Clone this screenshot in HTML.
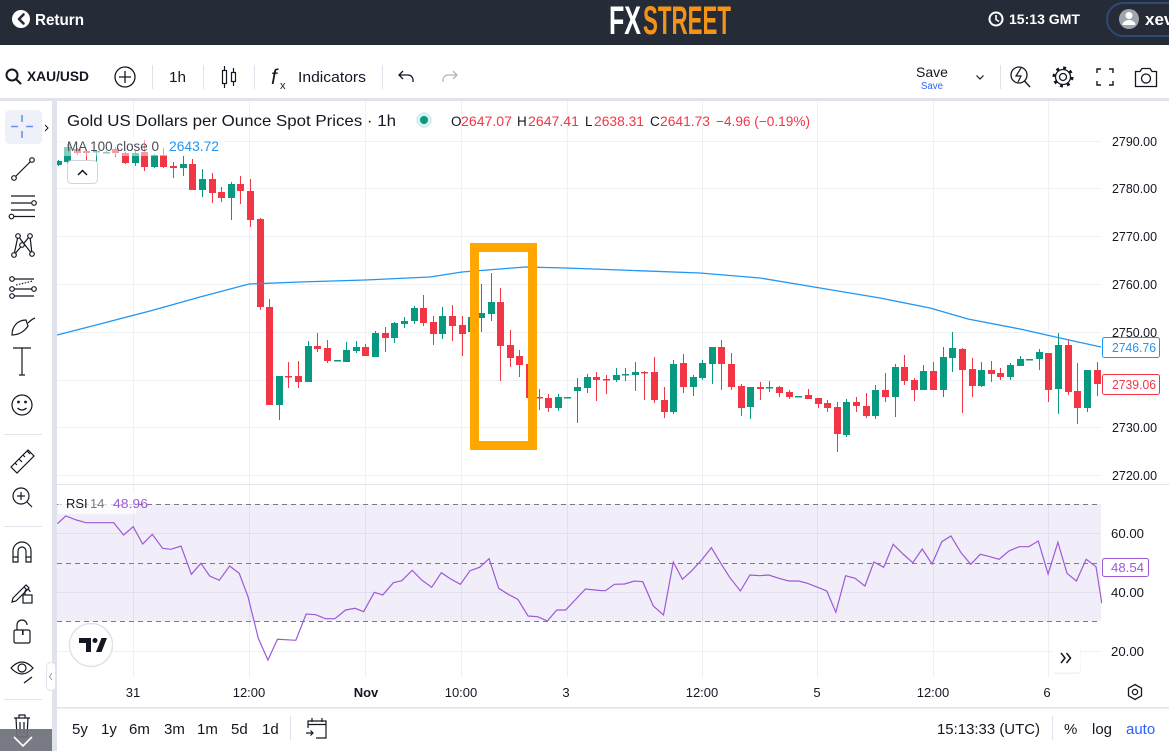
<!DOCTYPE html>
<html><head><meta charset="utf-8">
<style>
html,body{margin:0;padding:0;background:#fff;width:1169px;height:751px;overflow:hidden}
svg{display:block;font-family:"Liberation Sans",Arial,sans-serif}
</style></head><body>
<svg width="1169" height="751" viewBox="0 0 1169 751" xmlns="http://www.w3.org/2000/svg">
<defs>
<clipPath id="mainClip"><rect x="57" y="101" width="1044" height="383"/></clipPath>
<clipPath id="rsiClip"><rect x="57" y="485" width="1045" height="192"/></clipPath>
</defs>
<rect width="1169" height="751" fill="#fff"/>
<!-- header -->
<rect width="1169" height="45" fill="#252b37"/>
<circle cx="21" cy="19" r="9" fill="#fff"/>
<path d="M23.5 14.5 L19 19 L23.5 23.5" stroke="#252b37" stroke-width="2.6" fill="none" stroke-linecap="round" stroke-linejoin="round"/>
<text x="35" y="25" font-size="16" font-weight="bold" fill="#fff" textLength="49" lengthAdjust="spacingAndGlyphs">Return</text>
<text x="609" y="34" font-size="40" font-weight="bold" fill="#fff" textLength="32" lengthAdjust="spacingAndGlyphs" font-family="'Liberation Sans Narrow','Liberation Sans',sans-serif">FX</text>
<text x="643" y="34" font-size="40" font-weight="bold" fill="#f39419" textLength="88" lengthAdjust="spacingAndGlyphs" font-family="'Liberation Sans Narrow','Liberation Sans',sans-serif">STREET</text>
<circle cx="996" cy="19" r="6.5" stroke="#fff" stroke-width="2" fill="none"/>
<path d="M996 15 V19.5 L999 21.5" stroke="#fff" stroke-width="1.6" fill="none"/>
<text x="1009" y="24" font-size="14" font-weight="bold" fill="#fff" textLength="71" lengthAdjust="spacingAndGlyphs">15:13 GMT</text>
<rect x="1107" y="3" width="90" height="33" rx="16.5" fill="none" stroke="#2c4a77" stroke-width="2"/>
<circle cx="1129" cy="19" r="10" fill="#a0a4ad"/>
<circle cx="1129" cy="15.5" r="3.5" fill="#fff"/>
<path d="M1122.5 25 a6.5 5 0 0 1 13 0 z" fill="#fff"/>
<text x="1145" y="25" font-size="17" font-weight="bold" fill="#fff">xev</text>

<!-- layout gaps -->
<rect x="0" y="98" width="1169" height="3" fill="#e0e3eb"/>
<rect x="52" y="98" width="5" height="653" fill="#e0e3eb"/>
<rect x="57" y="707" width="1112" height="1.5" fill="#e0e3eb"/>

<!-- top toolbar -->
<circle cx="12" cy="75" r="5.5" stroke="#131722" stroke-width="2" fill="none"/>
<path d="M16 79 L20.5 83.5" stroke="#131722" stroke-width="2" stroke-linecap="round"/>
<text x="27" y="81" font-size="14" font-weight="bold" fill="#131722" textLength="62" lengthAdjust="spacingAndGlyphs">XAU/USD</text>
<circle cx="125" cy="77" r="10" stroke="#131722" stroke-width="1.3" fill="none"/>
<path d="M125 71 V83 M119 77 H131" stroke="#131722" stroke-width="1.3"/>
<rect x="152" y="65" width="1" height="24" fill="#e0e3eb"/>
<text x="169" y="82" font-size="15" fill="#131722" textLength="17" lengthAdjust="spacingAndGlyphs">1h</text>
<rect x="203" y="65" width="1" height="24" fill="#e0e3eb"/>
<path d="M224.5 66 V88 M233.5 68 V86" stroke="#131722" stroke-width="1.2"/>
<rect x="222.5" y="70.5" width="4" height="13" fill="#fff" stroke="#131722" stroke-width="1.2"/>
<rect x="231.5" y="72.5" width="4" height="9" fill="#fff" stroke="#131722" stroke-width="1.2"/>
<rect x="254" y="65" width="1" height="24" fill="#e0e3eb"/>
<text x="271" y="84" font-size="21" font-style="italic" fill="#131722">f</text>
<text x="280" y="89" font-size="11" fill="#131722">x</text>
<text x="298" y="82" font-size="15" fill="#131722" textLength="68" lengthAdjust="spacingAndGlyphs">Indicators</text>
<rect x="382" y="65" width="1" height="24" fill="#e0e3eb"/>
<path d="M403 71 L399 75 L403 79 M399 75 H408 A5 5 0 0 1 413 80 V82" stroke="#131722" stroke-width="1.3" fill="none"/>
<path d="M453 71 L457 75 L453 79 M457 75 H448 A5 5 0 0 0 443 80 V82" stroke="#b2b5be" stroke-width="1.3" fill="none"/>
<text x="916" y="77" font-size="14" fill="#131722" textLength="32" lengthAdjust="spacingAndGlyphs">Save</text>
<text x="921" y="89" font-size="10" fill="#2962ff" textLength="22" lengthAdjust="spacingAndGlyphs">Save</text>
<path d="M976.5 75.5 L980 79 L983.5 75.5" stroke="#131722" stroke-width="1.2" fill="none"/>
<rect x="1000" y="65" width="1" height="24" fill="#e0e3eb"/>
<circle cx="1019" cy="75" r="8" stroke="#131722" stroke-width="1.3" fill="none"/>
<path d="M1024.5 81 L1030 87" stroke="#131722" stroke-width="1.4"/>
<path d="M1021 68 L1016 76 H1021 L1018 82" stroke="#131722" stroke-width="1.2" fill="none"/>
<circle cx="1063" cy="77" r="3.5" stroke="#131722" stroke-width="1.3" fill="none"/>
<circle cx="1063" cy="77" r="7.5" stroke="#131722" stroke-width="1.3" fill="none"/>
<circle cx="1063" cy="77" r="9.2" stroke="#131722" stroke-width="2.6" fill="none" stroke-dasharray="3 4.2"/>
<path d="M1097 73 V69 H1101 M1109 69 H1113 V73 M1113 81 V85 H1109 M1101 85 H1097 V81" stroke="#131722" stroke-width="1.4" fill="none"/>
<path d="M1135.5 71.5 H1140 L1142 68.5 H1150 L1152 71.5 H1156.5 V86.5 H1135.5 Z" stroke="#131722" stroke-width="1.3" fill="none"/>
<circle cx="1146" cy="78.5" r="4.5" stroke="#131722" stroke-width="1.3" fill="none"/>

<!-- left sidebar -->
<rect x="5" y="110" width="37" height="34" rx="5" fill="#eef0fa"/>
<path d="M11 126.5 H18 M26 126.5 H33 M22 115 V122 M22 131 V138" stroke="#6d8ff0" stroke-width="1.6"/>
<path d="M45 125 L48 128 L45 131" stroke="#131722" stroke-width="1" fill="none"/>
<g stroke="#131722" stroke-width="1.2" fill="#fff">
<path d="M15.5 176.5 L30.5 161.5" fill="none"/>
<circle cx="14" cy="178" r="2.3"/><circle cx="32" cy="160" r="2.3"/>
<path d="M11 196 H35 M11 203 H31 M11 210 H35 M14 216.5 H35" fill="none"/>
<circle cx="34" cy="203" r="2.3"/><circle cx="11.5" cy="216.5" r="2.3"/>
<path d="M14 255 L18 236 L32 254 L30 236 L14 255" fill="none"/>
<circle cx="14" cy="255" r="2.3"/><circle cx="18" cy="236" r="2.3"/><circle cx="32" cy="254" r="2.3"/><circle cx="30" cy="236" r="2.3"/><circle cx="22" cy="245" r="2.3"/>
<path d="M14 279 H34 M14 289 H34 M14 296 H34" fill="none"/>
<path d="M16 285 L33 281" fill="none" stroke-dasharray="1.5 1.5"/>
<circle cx="12" cy="279" r="2.3"/><circle cx="12" cy="289" r="2.3"/><circle cx="34" cy="289" r="2.3"/><circle cx="12" cy="296" r="2.3"/>
<path d="M12 335 C12 326 18 320 26 320 L28 326 C24 332 18 335 12 335 Z M28 323 C30 321 32 319 35 318" fill="none"/>
<path d="M13 348 H31 M22 348 V375 M19 375 H25" fill="none"/>
<circle cx="22" cy="405" r="10"/>
<circle cx="18.5" cy="402" r="0.8" fill="#131722"/><circle cx="25.5" cy="402" r="0.8" fill="#131722"/>
<path d="M17.5 408 Q22 412 26.5 408" fill="none"/>
<path d="M11 467 L28 450 L34 456 L17 473 Z M15 463 L17 465 M19 459 L22 462 M23 455 L25 457 M27 451 L30 454" fill="none"/>
<circle cx="21" cy="496" r="8" fill="none"/>
<path d="M27 502 L32 507 M21 492 V500 M17 496 H25" fill="none"/>
<path d="M13 562 V551 A9 9 0 0 1 31 551 V562 H26 V551 A4 4 0 0 0 18 551 V562 Z M13 557 H18 M26 557 H31" fill="none"/>
<path d="M13 598 L12 602 L16 601 L29 588 L26 585 Z M24 587 L27 590" fill="none"/>
<rect x="23" y="595" width="9" height="8" fill="#fff"/>
<path d="M25 595 V592 A2.5 2.5 0 0 1 30 592" fill="none"/>
<rect x="14" y="630" width="16" height="13" rx="1.5" fill="none"/>
<path d="M17 630 V625 A5 5 0 0 1 27 625" fill="none"/>
<path d="M11 668 Q22 656 33 668 Q22 680 11 668 Z" fill="none"/>
<circle cx="22" cy="668" r="4" fill="none"/>
<path d="M24 683 L32 677" fill="none"/>
<path d="M14 718 H30 M19 718 V715 H25 V718 M16 718 L17 737 H27 L28 718 M20 722 V734 M24 722 V734" fill="none"/>
</g>
<rect x="22" y="630" width="1.6" height="5" fill="#131722"/>
<rect x="4" y="434" width="38" height="1" fill="#e0e3eb"/>
<rect x="4" y="526" width="38" height="1" fill="#e0e3eb"/>
<rect x="4" y="699" width="38" height="1" fill="#e0e3eb"/>
<rect x="0" y="729" width="52" height="22" fill="#6e7079" opacity="0.92"/>
<path d="M14 737 L23 746 L32 737" stroke="#fff" stroke-width="1.6" fill="none"/>
<rect x="46.5" y="662.5" width="9" height="28" rx="4" fill="#fff" stroke="#e0e3eb"/>
<path d="M52 673 L49.5 676.5 L52 680" stroke="#9598a1" stroke-width="1" fill="none"/>

<!-- grid -->
<g stroke="#eef0f3" stroke-width="1">
<path d="M57 141.5 H1101 M57 188.5 H1101 M57 236.5 H1101 M57 284.5 H1101 M57 332.5 H1101 M57 380.5 H1101 M57 427.5 H1101 M57 475.5 H1101"/>
<path d="M57 533.5 H1101 M57 592.5 H1101 M57 651.5 H1101"/>
<path d="M133.5 101 V484 M249.5 101 V484 M365.5 101 V484 M461.5 101 V484 M567.5 101 V484 M702.5 101 V484 M817.5 101 V484 M933.5 101 V484 M1048.5 101 V484"/>
<path d="M133.5 485 V677 M249.5 485 V677 M365.5 485 V677 M461.5 485 V677 M567.5 485 V677 M702.5 485 V677 M817.5 485 V677 M933.5 485 V677 M1048.5 485 V677"/>
</g>

<!-- candles -->
<g clip-path="url(#mainClip)">
<g fill="#089981">
<rect x="55" y="161" width="7" height="4"/><rect x="58" y="160" width="1" height="6"/>
<rect x="64" y="147" width="7" height="15"/><rect x="67" y="144" width="1" height="25"/>
<rect x="93" y="151" width="7" height="1.5"/><rect x="96" y="150" width="1" height="14"/>
<rect x="103" y="152" width="7" height="1.5"/><rect x="106" y="151" width="1" height="2"/>
<rect x="132" y="153" width="7" height="10"/><rect x="135" y="151" width="1" height="15"/>
<rect x="151" y="155" width="7" height="12"/><rect x="154" y="154" width="1" height="14"/>
<rect x="180" y="164" width="7" height="4"/><rect x="183" y="156" width="1" height="20"/>
<rect x="199" y="179" width="7" height="11"/><rect x="202" y="169" width="1" height="28"/>
<rect x="228" y="184" width="7" height="14"/><rect x="231" y="182" width="1" height="38"/>
<rect x="276" y="376" width="7" height="29"/><rect x="279" y="376" width="1" height="44"/>
<rect x="305" y="346" width="7" height="36"/><rect x="308" y="341" width="1" height="41"/>
<rect x="334" y="360" width="7" height="1.5"/>
<rect x="343" y="350" width="7" height="12"/><rect x="346" y="342" width="1" height="20"/>
<rect x="353" y="347" width="7" height="4"/><rect x="356" y="341" width="1" height="12"/>
<rect x="372" y="333" width="7" height="24"/><rect x="375" y="331" width="1" height="26"/>
<rect x="391" y="323" width="7" height="15"/><rect x="394" y="322" width="1" height="21"/>
<rect x="401" y="321" width="7" height="3"/><rect x="404" y="317" width="1" height="11"/>
<rect x="411" y="308" width="7" height="13"/><rect x="414" y="306" width="1" height="18"/>
<rect x="439" y="316" width="7" height="18"/><rect x="442" y="307" width="1" height="32"/>
<rect x="468" y="317" width="7" height="15"/><rect x="471" y="314" width="1" height="20"/>
<rect x="478" y="313" width="7" height="5"/><rect x="481" y="284" width="1" height="48"/>
<rect x="488" y="302" width="7" height="12"/><rect x="491" y="273" width="1" height="48"/>
<rect x="555" y="397" width="7" height="11"/><rect x="558" y="394" width="1" height="17"/>
<rect x="564" y="397" width="7" height="1.5"/>
<rect x="574" y="387" width="7" height="4"/><rect x="577" y="378" width="1" height="45"/>
<rect x="584" y="377" width="7" height="11"/><rect x="587" y="374" width="1" height="19"/>
<rect x="613" y="375" width="7" height="5"/><rect x="616" y="368" width="1" height="14"/>
<rect x="622" y="374" width="7" height="1.5"/><rect x="625" y="368" width="1" height="13"/>
<rect x="632" y="372" width="7" height="3"/><rect x="635" y="362" width="1" height="29"/>
<rect x="670" y="364" width="7" height="48"/><rect x="673" y="360" width="1" height="54"/>
<rect x="690" y="377" width="7" height="10"/><rect x="693" y="375" width="1" height="21"/>
<rect x="699" y="363" width="7" height="15"/><rect x="702" y="360" width="1" height="20"/>
<rect x="709" y="347" width="7" height="17"/><rect x="712" y="347" width="1" height="37"/>
<rect x="747" y="387" width="7" height="20"/><rect x="750" y="387" width="1" height="32"/>
<rect x="766" y="387" width="7" height="1.5"/><rect x="769" y="381" width="1" height="11"/>
<rect x="795" y="396" width="7" height="1.5"/>
<rect x="843" y="402" width="7" height="33"/><rect x="846" y="399" width="1" height="38"/>
<rect x="872" y="390" width="7" height="26"/><rect x="875" y="385" width="1" height="34"/>
<rect x="892" y="367" width="7" height="30"/><rect x="895" y="364" width="1" height="53"/>
<rect x="920" y="371" width="7" height="19"/><rect x="923" y="365" width="1" height="25"/>
<rect x="940" y="357" width="7" height="33"/><rect x="943" y="347" width="1" height="50"/>
<rect x="949" y="348" width="7" height="10"/><rect x="952" y="332" width="1" height="40"/>
<rect x="978" y="370" width="7" height="16"/><rect x="981" y="362" width="1" height="25"/>
<rect x="1007" y="365" width="7" height="12"/><rect x="1010" y="363" width="1" height="17"/>
<rect x="1017" y="359" width="7" height="7"/><rect x="1020" y="356" width="1" height="10"/>
<rect x="1026" y="359" width="7" height="1.5"/>
<rect x="1036" y="352" width="7" height="7"/><rect x="1039" y="349" width="1" height="21"/>
<rect x="1055" y="345" width="7" height="44"/><rect x="1058" y="333" width="1" height="81"/>
<rect x="1084" y="370" width="7" height="38"/><rect x="1087" y="370" width="1" height="42"/>
</g>
<g fill="#f23645">
<rect x="74" y="149" width="7" height="4"/><rect x="77" y="148" width="1" height="7"/>
<rect x="83" y="151" width="7" height="2"/><rect x="86" y="150" width="1" height="16"/>
<rect x="112" y="149" width="7" height="4"/><rect x="115" y="147" width="1" height="10"/>
<rect x="122" y="153" width="7" height="10"/><rect x="125" y="152" width="1" height="12"/>
<rect x="141" y="152" width="7" height="15"/><rect x="144" y="140" width="1" height="31"/>
<rect x="160" y="155" width="7" height="12"/><rect x="163" y="148" width="1" height="20"/>
<rect x="170" y="166" width="7" height="2"/><rect x="173" y="162" width="1" height="16"/>
<rect x="189" y="164" width="7" height="26"/><rect x="192" y="159" width="1" height="31"/>
<rect x="209" y="179" width="7" height="14"/><rect x="212" y="173" width="1" height="30"/>
<rect x="218" y="192" width="7" height="6"/><rect x="221" y="187" width="1" height="15"/>
<rect x="237" y="184" width="7" height="7"/><rect x="240" y="176" width="1" height="28"/>
<rect x="247" y="191" width="7" height="29"/><rect x="250" y="179" width="1" height="48"/>
<rect x="257" y="219" width="7" height="88"/><rect x="260" y="218" width="1" height="92"/>
<rect x="266" y="307" width="7" height="98"/><rect x="269" y="299" width="1" height="106"/>
<rect x="285" y="376" width="7" height="1.5"/><rect x="288" y="362" width="1" height="26"/>
<rect x="295" y="376" width="7" height="6"/><rect x="298" y="361" width="1" height="27"/>
<rect x="314" y="346" width="7" height="3"/><rect x="317" y="333" width="1" height="19"/>
<rect x="324" y="348" width="7" height="13"/><rect x="327" y="340" width="1" height="23"/>
<rect x="362" y="347" width="7" height="9"/><rect x="365" y="344" width="1" height="12"/>
<rect x="382" y="333" width="7" height="5"/><rect x="385" y="327" width="1" height="25"/>
<rect x="420" y="308" width="7" height="15"/><rect x="423" y="295" width="1" height="31"/>
<rect x="430" y="322" width="7" height="12"/><rect x="433" y="316" width="1" height="29"/>
<rect x="449" y="316" width="7" height="10"/><rect x="452" y="305" width="1" height="36"/>
<rect x="459" y="325" width="7" height="9"/><rect x="462" y="316" width="1" height="40"/>
<rect x="497" y="302" width="7" height="44"/><rect x="500" y="288" width="1" height="93"/>
<rect x="507" y="345" width="7" height="13"/><rect x="510" y="330" width="1" height="37"/>
<rect x="516" y="356" width="7" height="9"/><rect x="519" y="350" width="1" height="27"/>
<rect x="526" y="364" width="7" height="34"/><rect x="529" y="363" width="1" height="35"/>
<rect x="536" y="397" width="7" height="1.5"/><rect x="539" y="389" width="1" height="21"/>
<rect x="545" y="398" width="7" height="10"/><rect x="548" y="394" width="1" height="18"/>
<rect x="593" y="377" width="7" height="3"/><rect x="596" y="372" width="1" height="29"/>
<rect x="603" y="379" width="7" height="1.5"/><rect x="606" y="375" width="1" height="19"/>
<rect x="641" y="372" width="7" height="1.5"/><rect x="644" y="371" width="1" height="29"/>
<rect x="651" y="372" width="7" height="28"/><rect x="654" y="357" width="1" height="46"/>
<rect x="661" y="400" width="7" height="12"/><rect x="664" y="387" width="1" height="31"/>
<rect x="680" y="363" width="7" height="24"/><rect x="683" y="354" width="1" height="39"/>
<rect x="718" y="347" width="7" height="17"/><rect x="721" y="340" width="1" height="50"/>
<rect x="728" y="364" width="7" height="23"/><rect x="731" y="353" width="1" height="37"/>
<rect x="738" y="386" width="7" height="22"/><rect x="741" y="384" width="1" height="32"/>
<rect x="757" y="387" width="7" height="2"/><rect x="760" y="382" width="1" height="18"/>
<rect x="776" y="387" width="7" height="6"/><rect x="779" y="386" width="1" height="11"/>
<rect x="786" y="392" width="7" height="5"/><rect x="789" y="390" width="1" height="9"/>
<rect x="805" y="395" width="7" height="4"/><rect x="808" y="389" width="1" height="10"/>
<rect x="815" y="398" width="7" height="6"/><rect x="818" y="398" width="1" height="10"/>
<rect x="824" y="403" width="7" height="5"/><rect x="827" y="400" width="1" height="12"/>
<rect x="834" y="407" width="7" height="27"/><rect x="837" y="402" width="1" height="50"/>
<rect x="853" y="402" width="7" height="4"/><rect x="856" y="397" width="1" height="15"/>
<rect x="863" y="406" width="7" height="10"/><rect x="866" y="393" width="1" height="25"/>
<rect x="882" y="390" width="7" height="7"/><rect x="885" y="373" width="1" height="29"/>
<rect x="901" y="367" width="7" height="14"/><rect x="904" y="355" width="1" height="30"/>
<rect x="911" y="380" width="7" height="10"/><rect x="914" y="378" width="1" height="23"/>
<rect x="930" y="371" width="7" height="19"/><rect x="933" y="362" width="1" height="28"/>
<rect x="959" y="349" width="7" height="21"/><rect x="962" y="348" width="1" height="65"/>
<rect x="969" y="369" width="7" height="17"/><rect x="972" y="358" width="1" height="39"/>
<rect x="988" y="370" width="7" height="4"/><rect x="991" y="361" width="1" height="21"/>
<rect x="997" y="373" width="7" height="4"/><rect x="1000" y="368" width="1" height="12"/>
<rect x="1045" y="353" width="7" height="37"/><rect x="1048" y="353" width="1" height="49"/>
<rect x="1065" y="345" width="7" height="47"/><rect x="1068" y="340" width="1" height="55"/>
<rect x="1074" y="391" width="7" height="17"/><rect x="1077" y="363" width="1" height="61"/>
<rect x="1094" y="370" width="7" height="14"/><rect x="1097" y="362" width="1" height="34"/>
</g>
<polyline fill="none" stroke="#2196f3" stroke-width="1.3" points="57,335 100,324 150,311 200,297 249,284 300,282 365,280 430,277 462,272 500,269 525,267 566,268 620,270 700,273 760,278 820,288 880,298 930,308 968,319 1020,329 1060,338 1101,347"/>
<rect x="474.5" y="247.5" width="58" height="198" fill="none" stroke="#ffa600" stroke-width="9"/>
</g>

<!-- main legend -->
<text x="67" y="126" font-size="16" fill="#131722" textLength="329" lengthAdjust="spacingAndGlyphs">Gold US Dollars per Ounce Spot Prices · 1h</text>
<circle cx="424" cy="120" r="8" fill="#089981" opacity="0.15"/>
<circle cx="424" cy="120" r="4" fill="#089981"/>
<g font-size="13.5">
<text x="451" y="126" fill="#131722">O</text>
<text x="461" y="126" fill="#f23645" textLength="51" lengthAdjust="spacingAndGlyphs">2647.07</text>
<text x="517" y="126" fill="#131722">H</text>
<text x="528" y="126" fill="#f23645" textLength="51" lengthAdjust="spacingAndGlyphs">2647.41</text>
<text x="585" y="126" fill="#131722">L</text>
<text x="594" y="126" fill="#f23645" textLength="50" lengthAdjust="spacingAndGlyphs">2638.31</text>
<text x="650" y="126" fill="#131722">C</text>
<text x="660" y="126" fill="#f23645" textLength="50" lengthAdjust="spacingAndGlyphs">2641.73</text>
<text x="716" y="126" fill="#f23645" textLength="94" lengthAdjust="spacingAndGlyphs">−4.96 (−0.19%)</text>
</g>
<rect x="58" y="137" width="166" height="19" fill="#fff" opacity="0.5"/>
<text x="67" y="151" font-size="13.5" fill="#4a4d57" textLength="92" lengthAdjust="spacingAndGlyphs">MA 100 close 0</text>
<text x="169" y="151" font-size="13.5" fill="#2196f3" textLength="50" lengthAdjust="spacingAndGlyphs">2643.72</text>
<rect x="67.5" y="160.5" width="30" height="23" rx="4" fill="#fff" stroke="#d1d4dc"/>
<path d="M78 175 L82.5 170.5 L87 175" stroke="#131722" stroke-width="1.5" fill="none"/>

<!-- price axis -->
<g font-size="13" fill="#131722">
<text x="1112" y="146" textLength="45" lengthAdjust="spacingAndGlyphs">2790.00</text>
<text x="1112" y="193" textLength="45" lengthAdjust="spacingAndGlyphs">2780.00</text>
<text x="1112" y="241" textLength="45" lengthAdjust="spacingAndGlyphs">2770.00</text>
<text x="1112" y="289" textLength="45" lengthAdjust="spacingAndGlyphs">2760.00</text>
<text x="1112" y="337" textLength="45" lengthAdjust="spacingAndGlyphs">2750.00</text>
<text x="1112" y="432" textLength="45" lengthAdjust="spacingAndGlyphs">2730.00</text>
<text x="1112" y="480" textLength="45" lengthAdjust="spacingAndGlyphs">2720.00</text>
</g>
<rect x="1102.5" y="337.5" width="57" height="20" rx="2" fill="#fff" stroke="#2196f3"/>
<text x="1112" y="352" font-size="13" fill="#2196f3" textLength="44" lengthAdjust="spacingAndGlyphs">2746.76</text>
<rect x="1102.5" y="374.5" width="57" height="20" rx="2" fill="#fff" stroke="#f23645"/>
<text x="1112" y="389" font-size="13" fill="#f23645" textLength="44" lengthAdjust="spacingAndGlyphs">2739.06</text>

<!-- pane separator -->
<rect x="57" y="484" width="1112" height="1" fill="#e0e3eb"/>

<!-- RSI pane -->
<rect x="57" y="504" width="1044" height="117.3" fill="#7e57c2" opacity="0.1"/>
<g stroke="#787b86" stroke-width="1" stroke-dasharray="5 4">
<path d="M57 504.5 H1101 M57 563.5 H1101 M57 621.5 H1101"/>
</g>
<g clip-path="url(#rsiClip)">
<polyline fill="none" stroke="#9c5ad6" stroke-width="1.2" points="57.4,523.7 65.8,516 76.5,520 86,522.7 113.7,522.7 123.6,535 133.2,526.7 142.7,544 152.3,534.3 162.6,548.3 171,549.3 181,546 191.4,574.3 200.9,563.3 209.7,576 219.3,580.3 229.6,566 239.2,573.3 248,596.7 258.3,638.3 267.9,660 277.5,639.3 295.8,640.3 306.2,614 315.7,614.7 325.3,618.7 334.9,618.7 345.6,610 355.1,608.3 363.6,611.7 374.3,592.3 382.7,595 393.4,582.7 401.8,580.7 412.2,570.3 421.7,580 431.7,587.3 441.3,572.7 450.8,579 460.4,584.3 470,570.7 479.5,567.3 489.1,558.7 498.7,588.3 508.2,594.3 517.8,599.3 528.1,616 537.7,616.7 547.3,621 556.8,610 565.6,610 585.5,589 600,590.5 605.4,590.7 614.5,584.3 624.7,584 634.5,581 642.8,581.7 653.3,606 663.5,615 673.3,562 682.4,579.3 691.8,570.7 701.6,560 711.4,547.7 720.8,563.3 729.9,577.7 740.4,591 749.9,575 759.7,575.7 768.7,575 778.9,578.3 788.7,581 798.5,581 807.5,583.3 817.7,587.3 826.8,591 835.8,612.3 845.6,575.7 855.1,578.3 864.9,586 873.9,562 883.7,567.3 893.2,544.3 903,554 912.8,562.7 922.2,549 932,564 941.8,541.7 950.9,536 961,552.7 970.8,564.3 980.3,554.3 990,556.7 999.1,559.3 1008.9,551 1019.1,546.7 1028.9,546.7 1038.3,541 1048.1,574 1057.9,542.3 1067,573.3 1076.4,581 1086.2,559.3 1096,566.7 1101.8,603.3"/>
</g>
<rect x="58" y="492" width="78" height="22" fill="#fff" opacity="0.7"/>
<text x="66" y="508" font-size="13" fill="#131722">RSI</text>
<text x="90" y="508" font-size="13" fill="#787b86">14</text>
<text x="113" y="508" font-size="13" fill="#9c5ad6" textLength="35" lengthAdjust="spacingAndGlyphs">48.96</text>
<g font-size="13" fill="#131722">
<text x="1111" y="538" textLength="33" lengthAdjust="spacingAndGlyphs">60.00</text>
<text x="1111" y="597" textLength="33" lengthAdjust="spacingAndGlyphs">40.00</text>
<text x="1111" y="656" textLength="33" lengthAdjust="spacingAndGlyphs">20.00</text>
</g>
<rect x="1102.5" y="558.5" width="46" height="18" rx="2" fill="#fff" stroke="#9c5ad6"/>
<text x="1111" y="572" font-size="13" fill="#9c5ad6" textLength="33" lengthAdjust="spacingAndGlyphs">48.54</text>

<!-- TV logo -->
<circle cx="91" cy="645" r="21.5" fill="#fff" stroke="#e0e3eb" stroke-width="1.5"/>
<path d="M79 638 H91 V652 H86 V643 H79 Z" fill="#131722"/>
<circle cx="95" cy="640.5" r="2.5" fill="#131722"/>
<path d="M96 652 L101.5 638 H107 L101.5 652 Z" fill="#131722"/>

<!-- scroll button -->
<rect x="1053" y="646" width="28" height="28" rx="4" fill="#000" opacity="0.06"/>
<rect x="1052.5" y="644.5" width="28" height="28" rx="4" fill="#fff"/>
<path d="M1061 653 L1065 658 L1061 663 M1066.5 653 L1070.5 658 L1066.5 663" stroke="#131722" stroke-width="1.5" fill="none"/>

<!-- time axis -->
<g font-size="13" fill="#131722" text-anchor="middle">
<text x="133" y="697">31</text>
<text x="249" y="697">12:00</text>
<text x="366" y="697" font-weight="bold">Nov</text>
<text x="461" y="697">10:00</text>
<text x="566" y="697">3</text>
<text x="702" y="697">12:00</text>
<text x="817" y="697">5</text>
<text x="933" y="697">12:00</text>
<text x="1047" y="697">6</text>
</g>
<path d="M1135 684.5 L1141.5 688.2 V695.8 L1135 699.5 L1128.5 695.8 V688.2 Z" stroke="#131722" stroke-width="1.3" fill="none"/>
<circle cx="1135" cy="692" r="2.6" stroke="#131722" stroke-width="1.3" fill="none"/>

<!-- bottom toolbar -->
<g font-size="15" fill="#131722">
<text x="72" y="734">5y</text>
<text x="101" y="734">1y</text>
<text x="129" y="734">6m</text>
<text x="164" y="734">3m</text>
<text x="197" y="734">1m</text>
<text x="231" y="734">5d</text>
<text x="262" y="734">1d</text>
<text x="937" y="734" textLength="103" lengthAdjust="spacingAndGlyphs">15:13:33 (UTC)</text>
<text x="1064" y="734">%</text>
<text x="1092" y="734">log</text>
<text x="1126" y="734" fill="#2962ff">auto</text>
</g>
<rect x="290" y="716" width="1" height="24" fill="#e0e3eb"/>
<rect x="1052" y="716" width="1" height="24" fill="#e0e3eb"/>
<path d="M308 728 V721 H326 V738 H316 M308 724.5 H326 M312 718 V722 M322 718 V722 M306 733 H313 M310.5 730.5 L313 733 L310.5 735.5" stroke="#131722" stroke-width="1.2" fill="none"/>
</svg>
</body></html>
